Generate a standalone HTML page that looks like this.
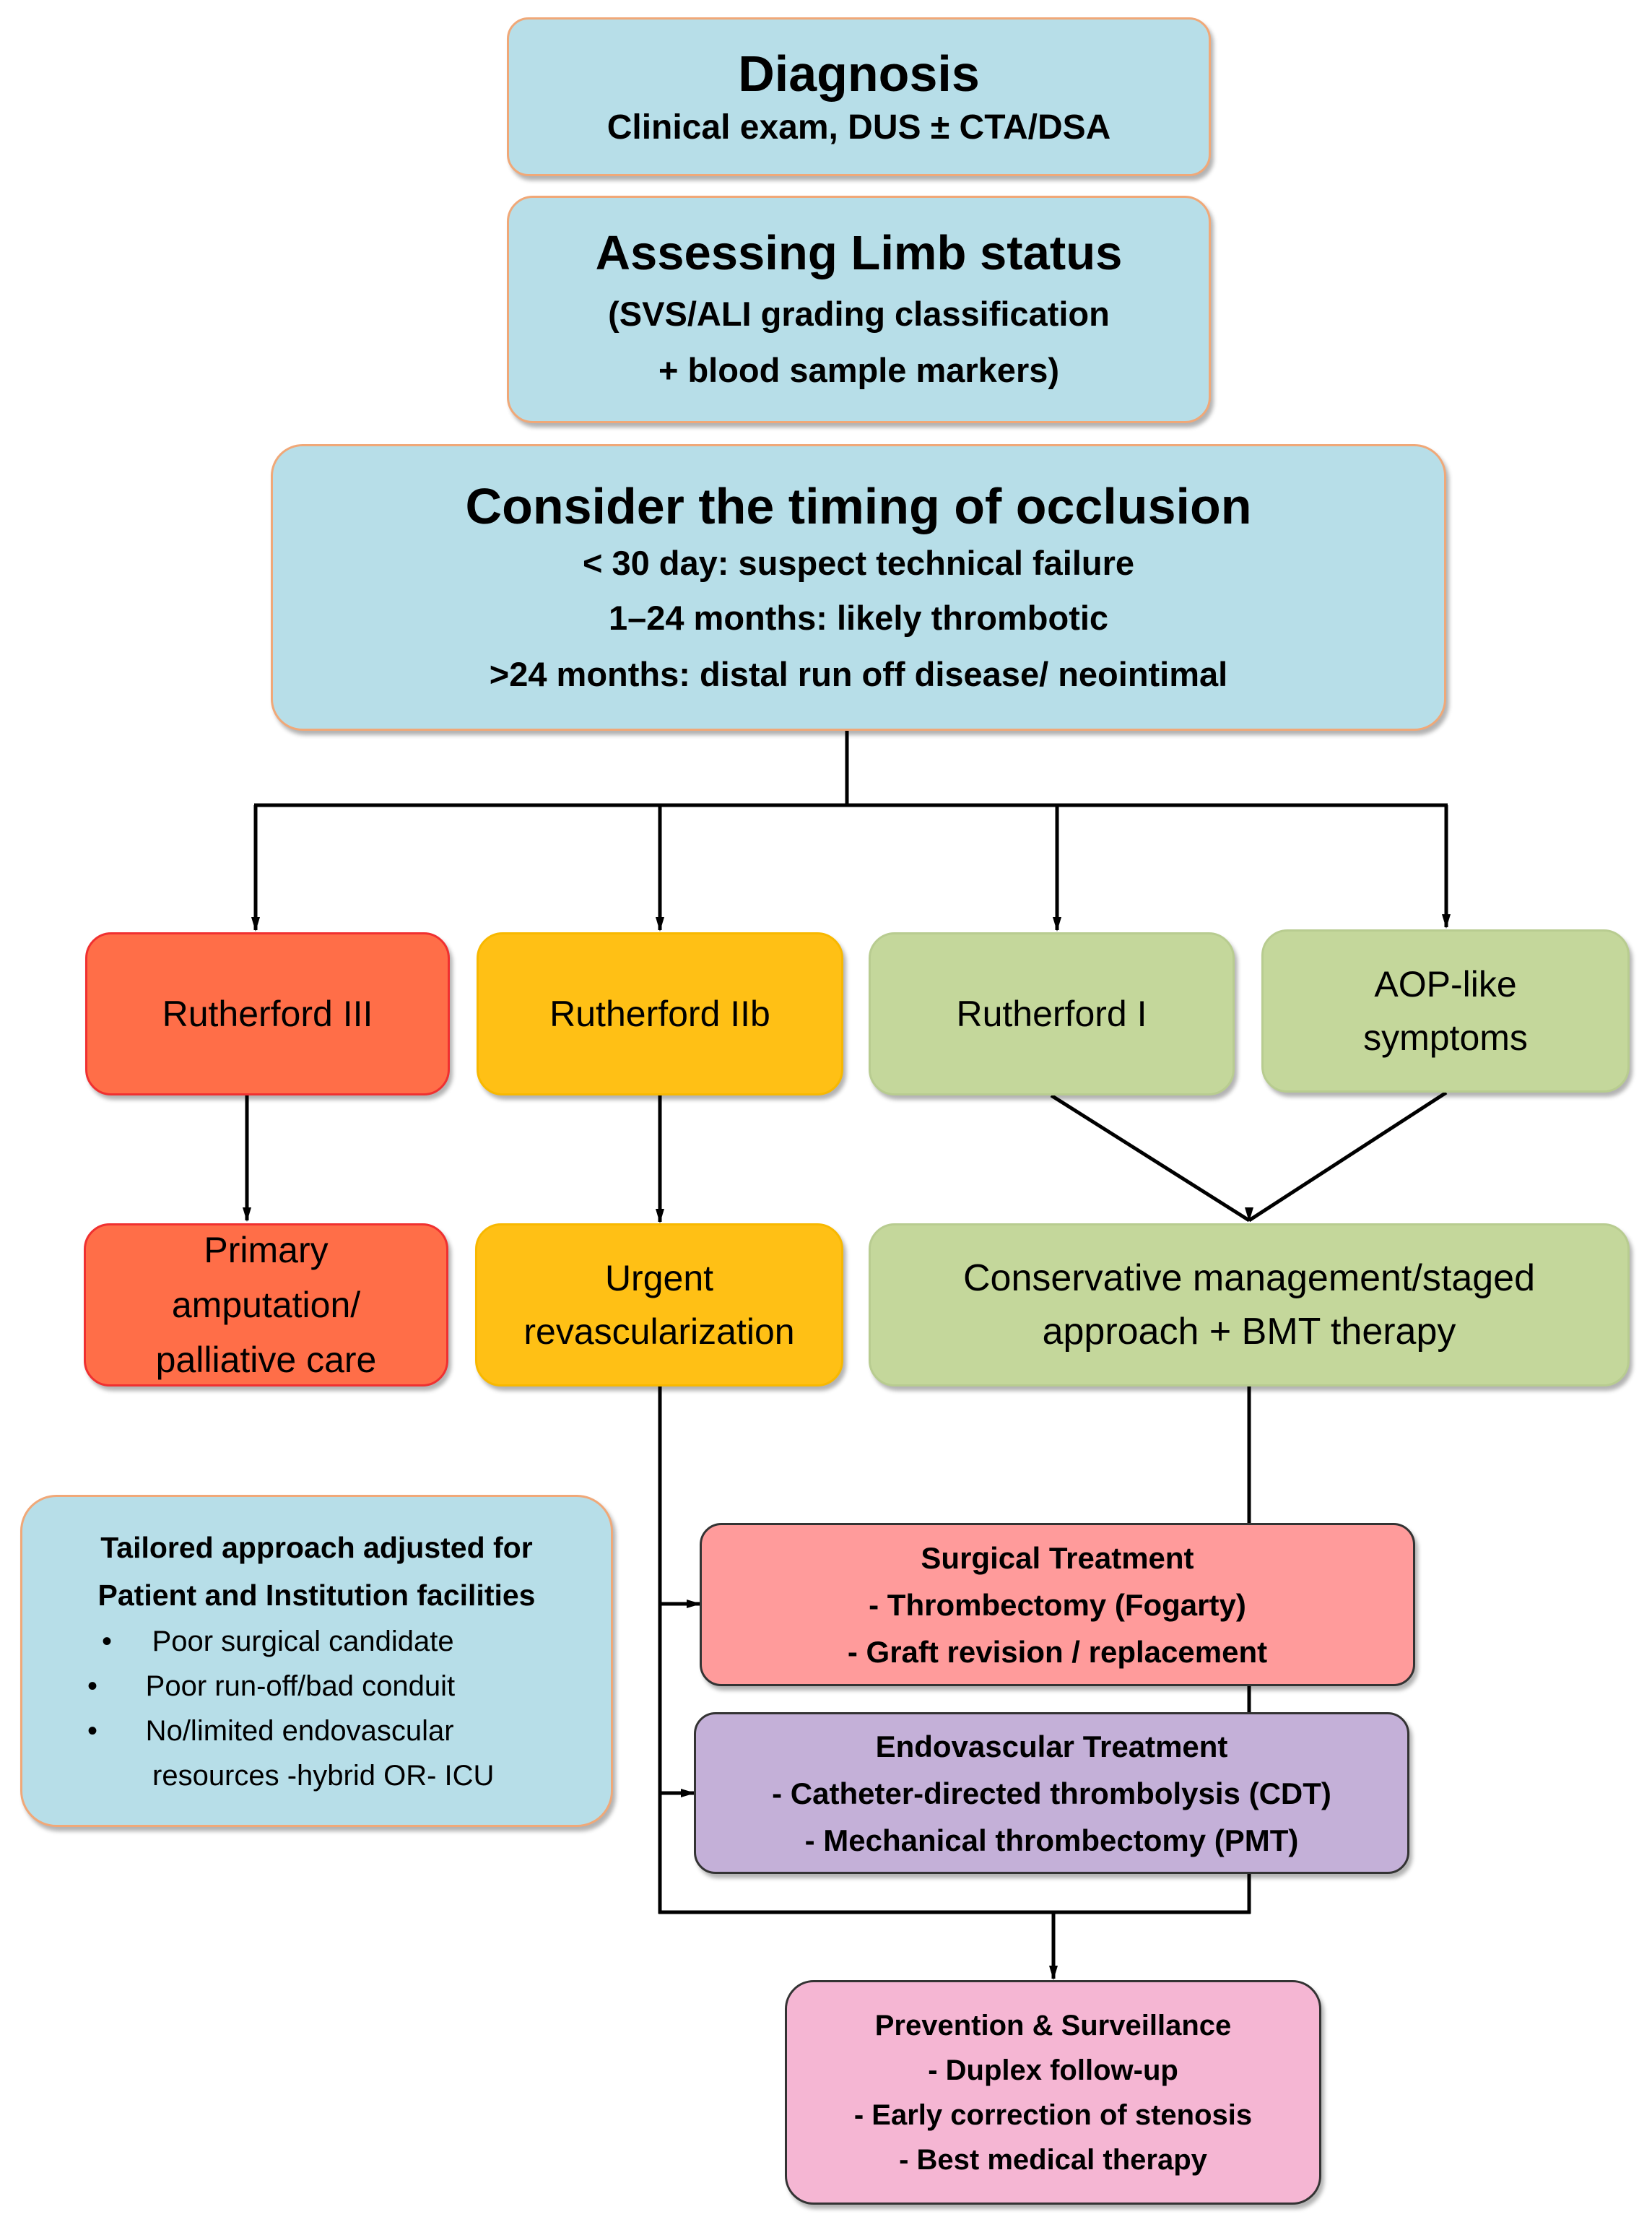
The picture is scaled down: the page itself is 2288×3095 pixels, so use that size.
<!DOCTYPE html>
<html><head><meta charset="utf-8"><style>
body{margin:0;width:2288px;height:3095px;background:#fff;position:relative;overflow:hidden;font-family:"Liberation Sans",sans-serif;color:#000}
.b{position:absolute;box-sizing:border-box;border-radius:36px;display:flex;flex-direction:column;justify-content:center;align-items:center;text-align:center;box-shadow:4px 6px 6px rgba(0,0,0,0.3)}
.blue{background:#b7dee8;border:3px solid #f0a878}
.red{background:#ff6e48;border:3px solid #f03030}
.yel{background:#ffc015;border:3px solid #f8b800}
.grn{background:#c4d79b;border:3px solid #b8cc90}
.bd{font-weight:bold}
svg{position:absolute;left:0;top:0}
</style></head><body>
<svg width="2288" height="3095">
<defs><marker id="a" markerWidth="10" markerHeight="10" refX="5" refY="9" orient="auto" markerUnits="userSpaceOnUse" viewBox="0 0 10 10"><path d="M0,0 L10,0 L5,10z" fill="#000"/></marker>
<marker id="r" markerWidth="20" markerHeight="20" refX="18" refY="10" orient="auto" markerUnits="userSpaceOnUse"><path d="M0,4 L20,10 L0,16z" fill="#000"/></marker>
<marker id="d" markerWidth="20" markerHeight="20" refX="10" refY="18" markerUnits="userSpaceOnUse"><path d="M4,0 L16,0 L10,20z" fill="#000"/></marker></defs>
<g stroke="#000" stroke-width="5" fill="none">
<line x1="1173" y1="1012" x2="1173" y2="1115"/>
<line x1="352" y1="1115" x2="2005" y2="1115"/>
<line x1="354" y1="1115" x2="354" y2="1288" marker-end="url(#d)"/>
<line x1="914" y1="1115" x2="914" y2="1288" marker-end="url(#d)"/>
<line x1="1464" y1="1115" x2="1464" y2="1288" marker-end="url(#d)"/>
<line x1="2003" y1="1115" x2="2003" y2="1284" marker-end="url(#d)"/>
<line x1="342" y1="1517" x2="342" y2="1690" marker-end="url(#d)"/>
<line x1="914" y1="1517" x2="914" y2="1692" marker-end="url(#d)"/>
<line x1="1456" y1="1517" x2="1730" y2="1690" marker-end="url(#d)"/>
<line x1="2003" y1="1513" x2="1730" y2="1690"/>
<line x1="914" y1="1920" x2="914" y2="2650"/>
<line x1="914" y1="2221" x2="969" y2="2221" marker-end="url(#r)"/>
<line x1="914" y1="2483" x2="961" y2="2483" marker-end="url(#r)"/>
<line x1="1730" y1="1920" x2="1730" y2="2650"/>
<line x1="912" y1="2648" x2="1732" y2="2648"/>
<line x1="1459" y1="2648" x2="1459" y2="2740" marker-end="url(#d)"/>
</g></svg>

<div class="b blue" style="left:702px;top:24px;width:975px;height:220px;border-radius:30px">
<div class="bd" style="font-size:70px;line-height:86px">Diagnosis</div>
<div class="bd" style="font-size:48px;line-height:64px">Clinical exam, DUS ± CTA/DSA</div></div>

<div class="b blue" style="left:702px;top:271px;width:975px;height:315px">
<div class="bd" style="font-size:67px;line-height:90px">Assessing Limb status</div>
<div class="bd" style="font-size:47px;line-height:78px">(SVS/ALI grading classification<br>+ blood sample markers)</div></div>

<div class="b blue" style="left:375px;top:615px;width:1628px;height:397px;border-radius:44px">
<div class="bd" style="font-size:70px;line-height:92px">Consider the timing of occlusion</div>
<div class="bd" style="font-size:47px;line-height:94px;margin-top:-14px">&lt; 30 day: suspect technical failure</div>
<div class="bd" style="font-size:47px;line-height:78px;margin-top:-10px">1–24 months: likely thrombotic<br>&gt;24 months: distal run off disease/ neointimal</div></div>

<div class="b red" style="left:118px;top:1291px;width:505px;height:226px"><div style="font-size:50px">Rutherford III</div></div>
<div class="b yel" style="left:660px;top:1291px;width:508px;height:226px"><div style="font-size:50px">Rutherford IIb</div></div>
<div class="b grn" style="left:1203px;top:1291px;width:507px;height:226px"><div style="font-size:50px">Rutherford I</div></div>
<div class="b grn" style="left:1747px;top:1287px;width:510px;height:226px"><div style="font-size:50px;line-height:74px">AOP-like<br>symptoms</div></div>

<div class="b red" style="left:116px;top:1694px;width:505px;height:226px"><div style="font-size:50px;line-height:76px">Primary<br>amputation/<br>palliative care</div></div>
<div class="b yel" style="left:658px;top:1694px;width:510px;height:226px"><div style="font-size:50px;line-height:74px">Urgent<br>revascularization</div></div>
<div class="b grn" style="left:1203px;top:1694px;width:1054px;height:226px"><div style="font-size:52px;line-height:74px">Conservative management/staged<br>approach + BMT therapy</div></div>

<div class="b blue" style="left:28px;top:2070px;width:821px;height:460px;border-radius:50px;align-items:stretch">
<div class="bd" style="font-size:41px;line-height:66px">Tailored approach adjusted for<br>Patient and Institution facilities</div>
<div style="font-size:40px;line-height:62px;text-align:left;padding-left:110px">
<div>•&nbsp;&nbsp;&nbsp;&nbsp;&nbsp;Poor surgical candidate</div>
<div style="margin-left:-20px">•&nbsp;&nbsp;&nbsp;&nbsp;&nbsp;&nbsp;Poor run-off/bad conduit</div>
<div style="margin-left:-20px">•&nbsp;&nbsp;&nbsp;&nbsp;&nbsp;&nbsp;No/limited endovascular</div>
<div style="padding-left:70px">resources -hybrid OR- ICU</div></div></div>

<div class="b" style="left:969px;top:2109px;width:991px;height:226px;background:#ff9b9b;border:3px solid #333;border-radius:30px">
<div class="bd" style="font-size:42px;line-height:65px">Surgical Treatment<br>- Thrombectomy (Fogarty)<br>- Graft revision / replacement</div></div>

<div class="b" style="left:961px;top:2371px;width:991px;height:224px;background:#c4b0d8;border:3px solid #333;border-radius:30px">
<div class="bd" style="font-size:42px;line-height:65px">Endovascular Treatment<br>- Catheter-directed thrombolysis (CDT)<br>- Mechanical thrombectomy (PMT)</div></div>

<div class="b" style="left:1087px;top:2742px;width:743px;height:311px;background:#f5b6d3;border:3px solid #333;border-radius:40px">
<div class="bd" style="font-size:40px;line-height:62px">Prevention &amp; Surveillance<br>- Duplex follow-up<br>- Early correction of stenosis<br>- Best medical therapy</div></div>
</body></html>
